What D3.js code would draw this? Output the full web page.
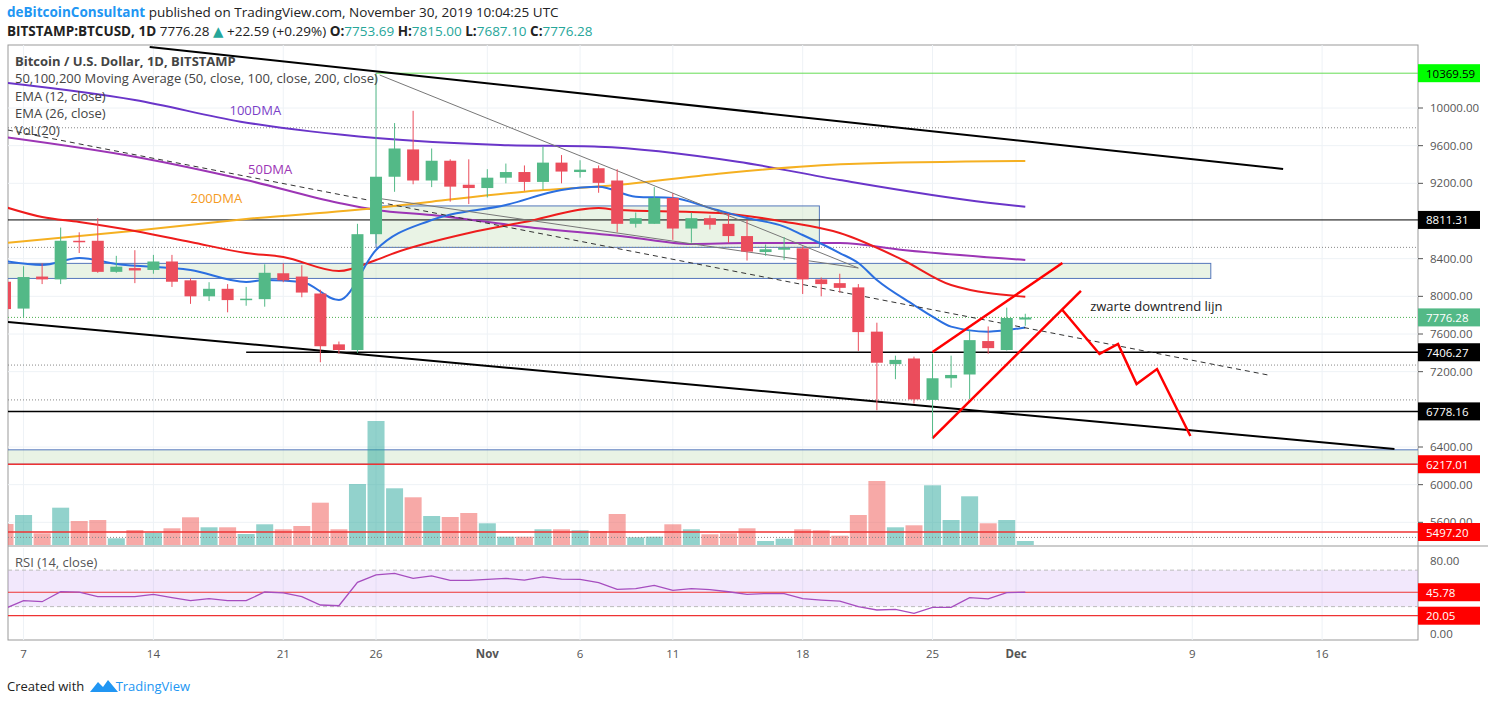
<!DOCTYPE html>
<html>
<head>
<meta charset="utf-8">
<script src="https://cdnjs.cloudflare.com/ajax/libs/d3/7.8.5/d3.min.js"></script>
<style>
  body { margin: 0; background: #fff; }
  svg text { font-family: "Open Sans", "DejaVu Sans", sans-serif; }
</style>
</head>
<body>
<div id="chart"></div>
<script>
// daily candles, Oct 6 .. Nov 30 2019 (index 0 = Oct 6)
const opens  = [8155,7870,8210,8180,8590,8590,8260,8300,8280,8370,8170,8000,8080,7960,7970,8245,8210,8030,7490,7430,8660,9270,9560,9230,9440,9185,9150,9260,9320,9215,9420,9320,9360,9230,8770,8770,9045,8720,8830,8770,8640,8470,8495,8510,8180,8140,8095,7625,7280,7340,6900,7130,7170,7525,7430,7753.69];
const highs  = [8200,8320,8350,8730,8680,8830,8430,8490,8440,8440,8190,8150,8130,8100,8340,8350,8330,8070,7520,8770,10370,9840,9970,9570,9455,9455,9350,9410,9390,9590,9500,9445,9390,9350,8890,9160,9095,8890,8860,8880,8810,8550,8630,8530,8200,8240,8130,7720,7370,7360,7390,7370,7640,7680,7880,7815];
const lows   = [7840,7780,8130,8130,8460,8250,8250,8140,8240,8100,7920,7950,7830,7900,7890,8150,7990,7300,7390,7400,8560,9110,9190,9160,9005,8980,9050,9200,9120,9135,9200,9260,9100,8680,8730,8770,8600,8570,8710,8570,8380,8430,8385,8025,8000,8040,7420,6790,7120,6860,6490,7030,6910,7390,7425,7687.1];
const closes = [7865,8205,8180,8590,8580,8260,8315,8275,8370,8155,8000,8080,7960,7975,8250,8170,8040,7470,7430,8660,9270,9570,9230,9440,9165,9150,9260,9320,9215,9420,9325,9345,9205,8770,8830,9045,8720,8830,8760,8640,8475,8500,8515,8180,8130,8090,7620,7295,7325,6905,7130,7165,7535,7450,7770,7776.28];
const volumes = [210,300,117,373,240,250,67,150,123,167,277,177,177,110,207,157,190,423,157,610,1240,567,477,290,280,320,217,83,83,157,157,147,140,310,77,83,207,157,107,117,167,40,63,157,147,93,300,640,177,197,597,250,487,217,250,40];
const rsi = [28,36.5,35.4,46.4,46,40.9,40.9,40.9,43.5,39.8,36.5,38.7,36.5,36.5,46,45,40.9,31.8,31,56.6,64.7,66.5,61,63.6,58.8,58.8,59.9,61,59,62.5,60.2,59.9,56.3,49,49.7,53.3,47.9,49.7,48.6,46.3,43.5,44.3,44.3,38.7,37.2,36.1,29.9,26.3,27,22.6,29.2,29.2,39.8,38.4,45.3,45.78];

// indicator lines, read at selected days: [day, price]
const ema12 = [[0,8375],[2,8333],[4,8407],[6,8343],[10,8280],[13,8152],[14,8173],[16,8152],[18,7960],[20,8492],[23,8811],[27,8970],[30,9129],[32,9164],[34,9058],[36,9044],[38,8938],[40,8832],[42,8740],[43,8651],[45,8460],[46,8354],[47,8173],[49,7908],[50,7784],[51,7678],[53,7625],[55,7670]];
const ema26 = [[0,8949],[2,8842],[4,8789],[7,8694],[10,8577],[13,8460],[15,8418],[18,8269],[20,8386],[21,8460],[25,8672],[28,8789],[32,8938],[33,8917],[37,8896],[38.5,8885],[42,8793],[45,8672],[48.4,8386],[51,8120],[55,7996]];
const ma200 = [[0,8566],[7,8697],[13,8821],[20,8938],[23,9005],[28,9111],[33,9182],[39,9313],[45.5,9405],[55,9437]];
const ma100 = [[0,10269],[7,10085],[12.7,9855],[20,9681],[26.7,9607],[32,9589],[39.5,9430],[45,9235],[53,8994],[55,8952]];
const ma50  = [[0,9692],[7,9483],[13,9235],[18,8991],[20,8917],[23,8864],[28,8740],[33.5,8633],[37,8556],[40,8566],[45,8566],[48.4,8492],[55,8386]];

// axes
const priceTicks = [10000,9600,9200,8400,8000,7600,7200,6400,6000,5600];
const rsiTicks = [80,0];
const dateTicks = [[1,"7"],[8,"14"],[15,"21"],[20,"26"],[26,"Nov"],[31,"6"],[36,"11"],[43,"18"],[50,"25"],[54.5,"Dec"],[64,"9"],[71,"16"]];

// horizontal levels: [price, label bg, label fg, line color, width, from day]
const levels = [
  [10369.59,"#00ff00","#000","#66dd55",1,20],
  [8811.31,"#000","#fff","#000",1,-1],
  [7406.27,"#000","#fff","#000",1.5,13],
  [6778.16,"#000","#fff","#000",1.5,-1],
  [6217.01,"#ff0000","#fff","#e33",1.5,-1],
  [5497.20,"#ff0000","#fff","#e33",1.5,-1]
];
const dottedLevels = [9790, 8520, 7270, 6900, 5440];
const zones = [[20,43.9,8960,8520],[-1,65,8350,8190],[-1,80,6370,6217]];
const trendLines = [
  {pts:[[7.8,10648],[68.9,9352]], c:"#000", w:2},
  {pts:[[0.16,7727],[74.9,6379]], c:"#000", w:2},
  {pts:[[20.2,10350],[46,8301]], c:"#777", w:1},
  {pts:[[20,9044],[46,8301]], c:"#777", w:1},
  {pts:[[0.16,9766],[68.1,7164]], c:"#333", w:1, dash:"5,4"},
  {pts:[[50,7409],[57,8354]], c:"#f00", w:2.5},
  {pts:[[50,6495],[58,8057]], c:"#f00", w:2.5},
  {pts:[[57,7855],[59,7388],[60,7494],[61,7069],[62.1,7228],[63.9,6517]], c:"#f00", w:2.5}
];

const W = 1488, H = 704;
const plotL = 0, plotR = 1418, paneTop = 45, priceBottom = 545, rsiTop = 548, plotB = 640;

const svg = d3.select("#chart").append("svg").attr("width", W).attr("height", H);

const x = d3.scaleLinear().domain([-0.27, 76.17]).range([plotL, plotR]);
const y = d3.scaleLinear().domain([10000, 6400]).range([108, 447]);
const yr = d3.scaleLinear().domain([80, 0]).range([561, 634]);
const yv = d3.scaleLinear().domain([0, 1240]).range([priceBottom, 421]);

const defs = svg.append("defs");
defs.append("clipPath").attr("id", "pane").append("rect")
  .attr("x", 8).attr("y", paneTop).attr("width", plotR - 8).attr("height", priceBottom - paneTop);
defs.append("clipPath").attr("id", "rsipane").append("rect")
  .attr("x", 8).attr("y", rsiTop).attr("width", plotR - 8).attr("height", plotB - rsiTop);

// header
const hd = svg.append("text").attr("x", 7).attr("y", 17).attr("font-size", 13.5);
hd.append("tspan").attr("fill", "#2196f3").attr("font-weight", "bold").text("deBitcoinConsultant");
hd.append("tspan").attr("fill", "#222").text(" published on TradingView.com, November 30, 2019 10:04:25 UTC");
const hd2 = svg.append("text").attr("x", 7).attr("y", 36).attr("font-size", 13.5).attr("fill", "#222");
hd2.append("tspan").attr("font-weight", "bold").text("BITSTAMP:BTCUSD, 1D ");
hd2.append("tspan").text("7776.28 ");
hd2.append("tspan").attr("fill", "#26a69a").text("▲");
hd2.append("tspan").text(" +22.59 (+0.29%) ");
[["O:","7753.69"],["H:","7815.00"],["L:","7687.10"],["C:","7776.28"]].forEach(([k, v]) => {
  hd2.append("tspan").attr("font-weight", "bold").text(k);
  hd2.append("tspan").attr("fill", "#26a69a").text(v + " ");
});

// frame
svg.append("rect").attr("x", 8).attr("y", paneTop).attr("width", plotR - 8).attr("height", plotB - paneTop)
  .attr("fill", "none").attr("stroke", "#999");
svg.append("line").attr("x1", 8).attr("x2", W).attr("y1", priceBottom + 1).attr("y2", priceBottom + 1).attr("stroke", "#999");

const pane = svg.append("g").attr("clip-path", "url(#pane)");
const rpane = svg.append("g").attr("clip-path", "url(#rsipane)");

// grid
pane.selectAll(".hg").data(priceTicks).join("line")
  .attr("x1", 8).attr("x2", plotR).attr("y1", d => y(d)).attr("y2", d => y(d)).attr("stroke", "#eef2f6");
pane.selectAll(".vg").data(dateTicks).join("line")
  .attr("x1", d => x(d[0])).attr("x2", d => x(d[0])).attr("y1", paneTop).attr("y2", priceBottom).attr("stroke", "#eef2f6");
rpane.selectAll(".vg").data(dateTicks).join("line")
  .attr("x1", d => x(d[0])).attr("x2", d => x(d[0])).attr("y1", rsiTop).attr("y2", plotB).attr("stroke", "#eef2f6");

// zones
pane.selectAll(".zone").data(zones).join("rect")
  .attr("x", d => x(d[0])).attr("width", d => x(d[1]) - x(d[0]))
  .attr("y", d => y(d[2])).attr("height", d => y(d[3]) - y(d[2]))
  .attr("fill", "rgba(200,225,190,0.4)").attr("stroke", "#5577bb").attr("stroke-width", 1);

// volume
const vcol = i => closes[i] >= opens[i] ? "rgba(38,166,154,0.5)" : "rgba(239,83,80,0.5)";
pane.selectAll(".vol").data(volumes).join("rect")
  .attr("x", (d, i) => x(i) - 8.5).attr("width", 17)
  .attr("y", d => yv(d)).attr("height", d => priceBottom - yv(d))
  .attr("fill", (d, i) => vcol(i));

// dotted levels
pane.selectAll(".dl").data(dottedLevels).join("line")
  .attr("x1", 8).attr("x2", plotR).attr("y1", d => y(d)).attr("y2", d => y(d))
  .attr("stroke", "#888").attr("stroke-dasharray", "1,2");
pane.append("line").attr("x1", 8).attr("x2", plotR).attr("y1", y(closes[55])).attr("y2", y(closes[55]))
  .attr("stroke", "#4caf50").attr("stroke-dasharray", "1,2");

// solid levels
pane.selectAll(".lv").data(levels).join("line")
  .attr("x1", d => x(d[5])).attr("x2", plotR).attr("y1", d => y(d[0])).attr("y2", d => y(d[0]))
  .attr("stroke", d => d[3]).attr("stroke-width", d => d[4]);

// moving averages
const line = d3.line().x(d => x(d[0])).y(d => y(d[1])).curve(d3.curveMonotoneX);
[[ma100, "#6a35c9"], [ma50, "#9c35b5"], [ma200, "#f5b021"], [ema26, "#ee1c1c"], [ema12, "#2b6fe0"]].forEach(([d, c]) => {
  pane.append("path").datum(d).attr("d", line).attr("fill", "none").attr("stroke", c).attr("stroke-width", 2);
});

// drawings
const pl = d3.line().x(d => x(d[0])).y(d => y(d[1]));
trendLines.forEach(t => {
  pane.append("path").datum(t.pts).attr("d", pl).attr("fill", "none")
    .attr("stroke", t.c).attr("stroke-width", t.w).attr("stroke-dasharray", t.dash || null);
});

// candles
const up = "#53b987", dn = "#eb4d5c";
const cg = pane.selectAll(".c").data(closes).join("g");
cg.append("line").attr("x1", (d, i) => x(i)).attr("x2", (d, i) => x(i))
  .attr("y1", (d, i) => y(highs[i])).attr("y2", (d, i) => y(lows[i]))
  .attr("stroke", (d, i) => d >= opens[i] ? up : dn);
cg.append("rect").attr("x", (d, i) => x(i) - 6).attr("width", 12)
  .attr("y", (d, i) => y(Math.max(d, opens[i])))
  .attr("height", (d, i) => Math.max(1.5, Math.abs(y(d) - y(opens[i]))))
  .attr("fill", (d, i) => d >= opens[i] ? up : dn);

// labels on the chart
pane.append("text").attr("x", x(12.1)).attr("y", y(9926)).attr("fill", "#7b3fc8").attr("font-size", 13).text("100DMA");
pane.append("text").attr("x", x(13.1)).attr("y", y(9299)).attr("fill", "#9c35b5").attr("font-size", 13).text("50DMA");
pane.append("text").attr("x", x(10)).attr("y", y(8990)).attr("fill", "#f59a21").attr("font-size", 13).text("200DMA");
pane.append("text").attr("x", x(58.5)).attr("y", y(7840)).attr("fill", "#222").attr("font-size", 13).text("zwarte downtrend lijn");

const legend = ["Bitcoin / U.S. Dollar, 1D, BITSTAMP", "50,100,200 Moving Average (50, close, 100, close, 200, close)", "EMA (12, close)", "EMA (26, close)", "VoL(20)"];
svg.selectAll(".lg").data(legend).join("text")
  .attr("x", 15).attr("y", (d, i) => 66 + i * 17.3).attr("font-size", 13)
  .attr("fill", "#444").attr("font-weight", (d, i) => i === 0 ? "bold" : null).text(d => d);

// RSI
rpane.append("rect").attr("x", 8).attr("width", plotR - 8).attr("y", yr(70)).attr("height", yr(30) - yr(70))
  .attr("fill", "rgba(190,140,240,0.2)");
[70, 30].forEach(v => rpane.append("line").attr("x1", 8).attr("x2", plotR).attr("y1", yr(v)).attr("y2", yr(v))
  .attr("stroke", "#bbb").attr("stroke-dasharray", "4,3"));
[45.78, 20.05].forEach(v => rpane.append("line").attr("x1", 8).attr("x2", plotR).attr("y1", yr(v)).attr("y2", yr(v))
  .attr("stroke", "#e33").attr("stroke-width", 1.2));
rpane.append("path").datum(rsi).attr("fill", "none").attr("stroke", "#a64dbf").attr("stroke-width", 1.3)
  .attr("d", d3.line().x((d, i) => x(i)).y(d => yr(d)));
svg.append("text").attr("x", 15).attr("y", 567).attr("font-size", 13).attr("fill", "#555").text("RSI (14, close)");

// right axis
const ax = svg.append("g").attr("font-size", 11.5).attr("fill", "#555");
ax.selectAll(".pt").data(priceTicks).join("text").attr("x", plotR + 12).attr("y", d => y(d) + 4).text(d => d.toFixed(2));
ax.selectAll(".pk").data(priceTicks).join("line").attr("x1", plotR).attr("x2", plotR + 5)
  .attr("y1", d => y(d)).attr("y2", d => y(d)).attr("stroke", "#555");
ax.selectAll(".rt").data(rsiTicks).join("text").attr("x", plotR + 12).attr("y", d => yr(d) + 4).text(d => d.toFixed(2));

function tag(yy, txt, bg, fg) {
  svg.append("rect").attr("x", plotR).attr("y", yy - 9).attr("width", 62).attr("height", 18).attr("fill", bg);
  svg.append("text").attr("x", plotR + 8).attr("y", yy + 4.5).attr("font-size", 11.5).attr("fill", fg).text(txt);
}
levels.forEach(l => tag(y(l[0]), l[0].toFixed(2), l[1], l[2]));
tag(y(closes[55]), closes[55].toFixed(2), "#53b987", "#fff");
tag(yr(45.78), "45.78", "#ff0000", "#fff");
tag(yr(20.05), "20.05", "#ff0000", "#fff");

// date axis
svg.selectAll(".dt").data(dateTicks).join("text")
  .attr("x", d => x(d[0])).attr("y", 658).attr("text-anchor", "middle").attr("font-size", 11.5)
  .attr("fill", "#555").attr("font-weight", d => isNaN(+d[1]) ? "bold" : null).text(d => d[1]);

// footer
const ft = svg.append("text").attr("x", 7).attr("y", 691).attr("font-size", 13);
ft.append("tspan").attr("fill", "#222").text("Created with ");
ft.append("tspan").attr("fill", "#2196f3").attr("dx", 28).text("TradingView");
svg.append("path").attr("d", "M90,692 l8,-10 l5,5 l5,-7 l10,12 z").attr("fill", "#2196f3");
</script>
</body>
</html>
